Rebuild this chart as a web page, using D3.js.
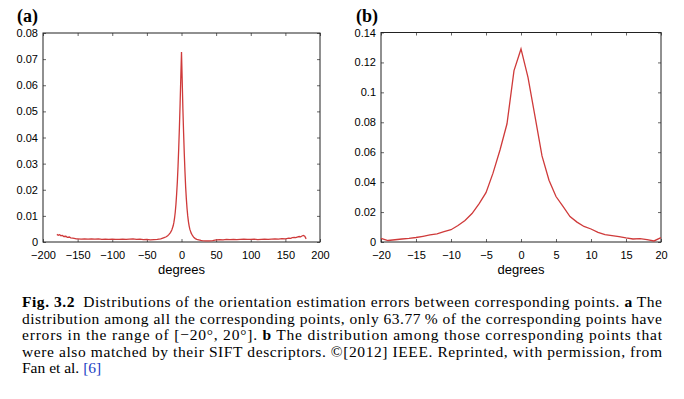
<!DOCTYPE html>
<html>
<head>
<meta charset="utf-8">
<script src="https://cdn.jsdelivr.net/npm/d3@7"></script>
<style>
  body { margin: 0; background: #fff; }
  svg { display: block; }
  .tick text { font-family: "Liberation Sans", Arial, sans-serif; font-size: 11px; fill: #000; }
  .serif { font-family: "Liberation Serif", "Times New Roman", serif; }
  .sans { font-family: "Liberation Sans", Arial, sans-serif; }
</style>
</head>
<body>
<svg id="fig" width="684" height="399"></svg>
<script>
// panel (a): all corresponding points, -180..180 degrees
const degA = [-180,-178,-176,-174,-172,-170,-167,-165,-162,-160,-157,-155,-152,-150,-145,-140,-135,-130,-125,-120,
  -115,-110,-105,-100,-95,-90,-85,-80,-75,-70,-65,-60,-55,-50,-45,-40,-35,-30,-27,-25,-22,-20,-18,-16,-14,-12,-11,
  -10,-9,-8,-7,-6,-5,-4,-3,-2,-1,0,1,2,3,4,5,6,7,8,9,10,11,12,14,16,18,20,22,25,28,30,35,40,45,50,55,60,65,70,75,
  80,85,90,95,100,105,110,115,120,125,130,135,140,145,150,155,158,160,163,165,168,170,172,174,176,178,180];
const valA = [0.0029,0.0026,0.0028,0.0024,0.0025,0.0021,0.0022,0.0018,0.0019,0.0016,0.0015,0.0014,0.0012,0.0012,
  0.0011,0.0012,0.0011,0.0012,0.0011,0.0012,0.0010,0.0011,0.0010,0.0011,0.0010,0.0010,0.0011,0.0010,0.0011,0.0012,
  0.0010,0.0011,0.0009,0.0010,0.0008,0.0009,0.0010,0.0012,0.0015,0.0017,0.0020,0.0024,0.0029,0.0036,0.0046,0.0062,
  0.0075,0.0092,0.0115,0.0145,0.0185,0.023,0.029,0.036,0.044,0.053,0.063,0.0727,0.062,0.051,0.042,0.034,0.027,0.021,
  0.0165,0.0128,0.0100,0.0078,0.0062,0.0049,0.0034,0.0024,0.0017,0.0013,0.0010,0.0008,0.0006,0.0005,0.0004,0.0004,
  0.0005,0.0008,0.0009,0.0008,0.0010,0.0009,0.0010,0.0009,0.0010,0.0011,0.0010,0.0010,0.0011,0.0009,0.0010,0.0011,
  0.0010,0.0011,0.0012,0.0011,0.0013,0.0012,0.0015,0.0014,0.0017,0.0018,0.0017,0.0020,0.0021,0.0020,0.0023,0.0025,
  0.0022,0.0012];

// panel (b): points also matched by SIFT, -20..20 degrees
const degB = [-20,-19,-18,-17,-16,-15,-14,-13,-12,-11,-10,-9,-8,-7,-6,-5,-4,-3,-2,-1,0,
  1,2,3,4,5,6,7,8,9,10,11,12,13,14,15,16,17,18,19,20];
const valB = [0.0024,0.0010,0.0015,0.0020,0.0024,0.0030,0.0038,0.0047,0.0055,0.0069,0.0082,0.0110,0.0144,0.0190,
  0.0255,0.0330,0.0460,0.0615,0.0790,0.1145,0.1290,0.1100,0.0840,0.0575,0.0413,0.0304,0.0238,0.0170,0.0133,0.0104,
  0.0087,0.0064,0.0049,0.0042,0.0036,0.0027,0.0020,0.0022,0.0016,0.0007,0.0029];

const ticksXA = d3.range(-200, 201, 50);
const ticksYA = d3.range(0, 0.0801, 0.01);
const ticksXB = d3.range(-20, 21, 5);
const ticksYB = d3.range(0, 0.1401, 0.02);

const svg = d3.select("#fig");
svg.append("rect").attr("width", 684).attr("height", 399).attr("fill", "#fff");

const fmt = d => (d < 0 ? "\u2212" : "") + Math.abs(+d.toFixed(2));

function panel(opt) {
  const x = d3.scaleLinear().domain(opt.xd).range([opt.left, opt.right]);
  const y = d3.scaleLinear().domain(opt.yd).range([242, opt.top]);
  const g = svg.append("g");

  // bottom / left axes with labels, ticks pointing inward
  const ax = g.append("g").attr("transform", "translate(0,242)")
    .call(d3.axisBottom(x).tickValues(opt.tx).tickSize(-3).tickPadding(9).tickFormat(fmt));
  const ay = g.append("g").attr("transform", `translate(${opt.left},0)`)
    .call(d3.axisLeft(y).tickValues(opt.ty).tickSize(-3).tickPadding(5).tickFormat(fmt));
  // top / right ticks, no labels
  const at = g.append("g").attr("transform", `translate(0,${opt.top})`)
    .call(d3.axisTop(x).tickValues(opt.tx).tickSize(-3).tickFormat(""));
  const ar = g.append("g").attr("transform", `translate(${opt.right},0)`)
    .call(d3.axisRight(y).tickValues(opt.ty).tickSize(-3).tickFormat(""));
  [ax, ay, at, ar].forEach(a => {
    a.select(".domain").remove();
    a.selectAll(".tick line").attr("stroke", "#666");
  });
  ax.selectAll(".tick text").attr("dy", "0.72em");

  g.append("rect")
    .attr("x", opt.left).attr("y", opt.top)
    .attr("width", opt.right - opt.left).attr("height", 242 - opt.top)
    .attr("fill", "none").attr("stroke", "#222").attr("stroke-width", 1);

  const line = d3.line().x((d, i) => x(opt.xs[i])).y(d => y(d));
  g.append("path").datum(opt.ys)
    .attr("d", line)
    .attr("fill", "none").attr("stroke", "#cf3a3a").attr("stroke-width", 1.3);

  g.append("text").attr("class", "sans")
    .attr("x", (opt.left + opt.right) / 2).attr("y", 274)
    .attr("text-anchor", "middle").attr("font-size", 13)
    .text("degrees");

  g.append("text").attr("class", "serif")
    .attr("x", opt.lx).attr("y", 21.5)
    .attr("font-size", 18).attr("font-weight", "bold").text(opt.label);
}

panel({ left: 43, right: 320, top: 33, xd: [-200, 200], yd: [0, 0.08], tx: ticksXA, ty: ticksYA,
  xs: degA, ys: valA, label: "(a)", lx: 17 });
panel({ left: 381, right: 661, top: 32.5, xd: [-20, 20], yd: [0, 0.14], tx: ticksXB, ty: ticksYB,
  xs: degB, ys: valB, label: "(b)", lx: 356 });

// caption, justified lines
const cap = [
  [["Fig. 3.2", true], ["\u2002Distributions of the orientation estimation errors between corresponding points. "], ["a", true], [" The"]],
  [["distribution among all the corresponding points, only 63.77\u2009% of the corresponding points have"]],
  [["errors in the range of [\u221220\u00b0, 20\u00b0]. "], ["b", true], [" The distribution among those corresponding points that"]],
  [["were also matched by their SIFT descriptors. \u00a9[2012] IEEE. Reprinted, with permission, from"]],
  [["Fan et al. "], ["[6]", false, "#1a3fc4"]]
];
const capY = [307, 323.5, 340, 356.5, 372.5];
cap.forEach((parts, i) => {
  const t = svg.append("text").attr("class", "serif")
    .attr("x", 22).attr("y", capY[i])
    .style("font-size", "15.5px").attr("fill", "#000");
  if (i < 4) t.attr("textLength", 640).attr("lengthAdjust", "spacing");
  parts.forEach(p => {
    t.append("tspan").attr("font-weight", p[1] ? "bold" : null)
      .attr("fill", p[2] || null).text(p[0]);
  });
});
</script>
</body>
</html>
